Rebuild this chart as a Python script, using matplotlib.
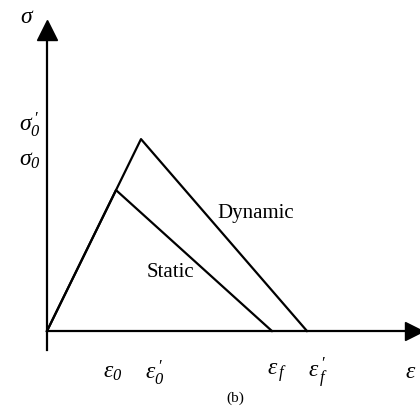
import matplotlib.pyplot as plt

plt.rcParams['mathtext.fontset'] = 'custom'
plt.rcParams['mathtext.rm'] = 'Liberation Serif:italic'
plt.rcParams['mathtext.it'] = 'Liberation Serif:italic'
plt.rcParams['font.family'] = 'Liberation Serif'

# Stress-strain curves (arbitrary units, axis tip = 1)
strain_static = [0, 0.185, 0.603]
stress_static = [0, 0.456, 0]
strain_dynamic = [0, 0.252, 0.697]
stress_dynamic = [0, 0.621, 0]

# Axis labels
x_labels = [r'$\varepsilon_{0}$', r"$\varepsilon_{0}^{\,\prime}$",
            r'$\varepsilon_{\,f}$', r"$\varepsilon_{\,f}^{\,\prime}$"]
x_label_pos = [0.177, 0.29, 0.617, 0.727]
y_labels = [r"$\sigma_{0}^{\,\prime}$", r'$\sigma_{0}$']
y_label_pos = [0.667, 0.553]

fig = plt.figure(figsize=(4.2, 4.07), dpi=100)
ax = fig.add_axes([47 / 420, 76 / 407, 373 / 420, 309 / 407])
ax.set_xlim(0, 1)
ax.set_ylim(0, 1)
ax.axis('off')

lw = 1.6
ax.plot(strain_static, stress_static, color='black', lw=lw, clip_on=False)
ax.plot(strain_dynamic, stress_dynamic, color='black', lw=lw, clip_on=False)

# axes with arrowheads
ax.plot([0, 0], [-0.062, 0.96], color='black', lw=lw, clip_on=False)
ax.plot([0, 0.97], [0, 0], color='black', lw=lw, clip_on=False)
ax.plot([0], [0.975], marker='^', markersize=14, color='black', clip_on=False)
ax.plot([0.985], [0], marker='>', markersize=13, color='black', clip_on=False)

fs = 17
for lab, xp in zip(x_labels, x_label_pos):
    ax.text(xp, -0.135, lab, fontsize=fs, ha='center', va='center')
for lab, yp in zip(y_labels, y_label_pos):
    ax.text(-0.045, yp, lab, fontsize=fs, ha='center', va='center')
ax.text(-0.052, 1.015, r'$\sigma$', fontsize=fs, ha='center', va='center')
ax.text(0.975, -0.135, r'$\varepsilon$', fontsize=fs, ha='center', va='center')

ax.text(0.56, 0.38, 'Dynamic', fontsize=15, ha='center', va='center')
ax.text(0.33, 0.19, 'Static', fontsize=15, ha='center', va='center')
ax.text(0.504, -0.217, '(b)', fontsize=11, ha='center', va='center')

fig.savefig('out.png', dpi=100)
